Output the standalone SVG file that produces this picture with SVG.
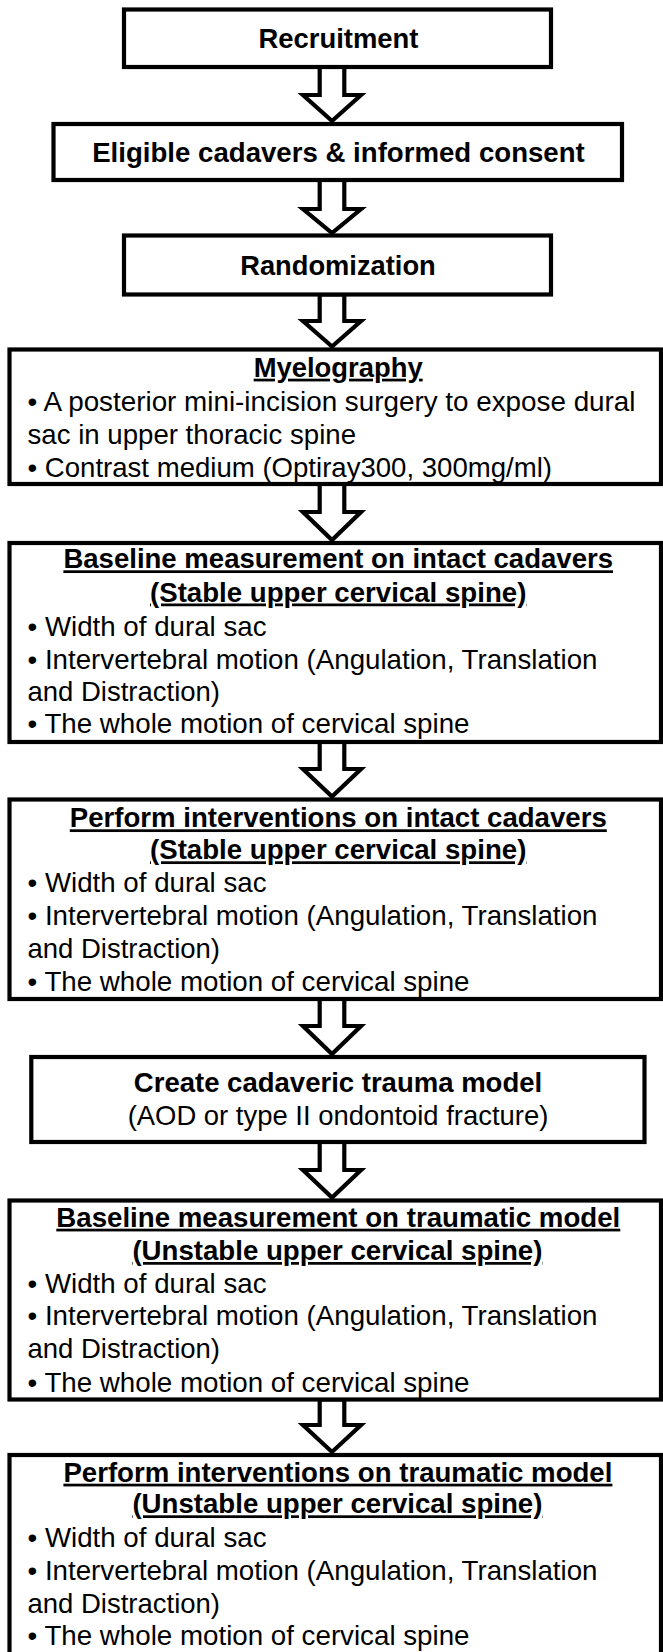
<svg xmlns="http://www.w3.org/2000/svg" width="663" height="1652" viewBox="0 0 663 1652">
<style>
.box{fill:#fff;stroke:#000;stroke-width:4.2}
.arr{fill:#fff;stroke:#000;stroke-width:4.2;stroke-linejoin:miter;stroke-miterlimit:10}
.h{font-family:"Liberation Sans",Arial,sans-serif;font-weight:bold;font-size:27.4px;text-anchor:middle;fill:#000}
.u{text-decoration:underline}
.t{font-family:"Liberation Sans",Arial,sans-serif;font-size:27.5px;fill:#000}
.c{text-anchor:middle}
</style>
<rect width="663" height="1652" fill="#fff"/>
<g id="connectors">
<polygon class="arr" points="319.7,67 344.3,67 344.3,95 361,95 332,121 303,95 319.7,95"/>
<polygon class="arr" points="319.7,180 344.3,180 344.3,209 361,209 332,233 303,209 319.7,209"/>
<polygon class="arr" points="319.7,294.5 344.3,294.5 344.3,321 361,321 332,346.5 303,321 319.7,321"/>
<polygon class="arr" points="319.7,484 344.3,484 344.3,512 361,512 332,540 303,512 319.7,512"/>
<polygon class="arr" points="319.7,742 344.3,742 344.3,769 361,769 332,796.5 303,769 319.7,769"/>
<polygon class="arr" points="319.7,999 344.3,999 344.3,1026 361,1026 332,1054 303,1026 319.7,1026"/>
<polygon class="arr" points="319.7,1142 344.3,1142 344.3,1170 361,1170 332,1197.5 303,1170 319.7,1170"/>
<polygon class="arr" points="319.7,1399.5 344.3,1399.5 344.3,1425 361,1425 332,1452 303,1425 319.7,1425"/>
</g>
<g id="recruitment">
<rect class="box" x="124" y="9.5" width="427" height="57.5"/>
<text class="h" x="338.5" y="48.3" textLength="160" lengthAdjust="spacingAndGlyphs">Recruitment</text>
</g>
<g id="eligible">
<rect class="box" x="53.5" y="124" width="568.5" height="56"/>
<text class="h" x="338.5" y="161.7" textLength="492.6" lengthAdjust="spacingAndGlyphs">Eligible cadavers &amp; informed consent</text>
</g>
<g id="randomization">
<rect class="box" x="124" y="235.5" width="427" height="59"/>
<text class="h" x="338" y="275" textLength="195.5" lengthAdjust="spacingAndGlyphs">Randomization</text>
</g>
<g id="myelography">
<rect class="box" x="9.5" y="349.5" width="651.5" height="134.5"/>
<text class="h u" x="338.2" y="376.7" textLength="169" lengthAdjust="spacingAndGlyphs">Myelography</text>
<text class="t" x="27.5" y="411" textLength="608" lengthAdjust="spacingAndGlyphs">• A posterior mini-incision surgery to expose dural</text>
<text class="t" x="27.5" y="443.5" textLength="328.5" lengthAdjust="spacingAndGlyphs">sac in upper thoracic spine</text>
<text class="t" x="27.5" y="476.5" textLength="524.5" lengthAdjust="spacingAndGlyphs">• Contrast medium (Optiray300, 300mg/ml)</text>
</g>
<g id="baseline-intact">
<rect class="box" x="9.5" y="543" width="651.5" height="199"/>
<text class="h u" x="338.2" y="568.3" textLength="549.6" lengthAdjust="spacingAndGlyphs">Baseline measurement on intact cadavers</text>
<text class="h u" x="338.2" y="601.5" textLength="376.4" lengthAdjust="spacingAndGlyphs">(Stable upper cervical spine)</text>
<text class="t" x="27.5" y="635.5" textLength="239" lengthAdjust="spacingAndGlyphs">• Width of dural sac</text>
<text class="t" x="27.5" y="668.5" textLength="570" lengthAdjust="spacingAndGlyphs">• Intervertebral motion (Angulation, Translation</text>
<text class="t" x="27.5" y="700.7" textLength="192.5" lengthAdjust="spacingAndGlyphs">and Distraction)</text>
<text class="t" x="27.5" y="733.3" textLength="442" lengthAdjust="spacingAndGlyphs">• The whole motion of cervical spine</text>
</g>
<g id="perform-intact">
<rect class="box" x="9.5" y="799.5" width="651.5" height="199.5"/>
<text class="h u" x="338.3" y="827.3" textLength="537" lengthAdjust="spacingAndGlyphs">Perform interventions on intact cadavers</text>
<text class="h u" x="338.2" y="859.3" textLength="376.4" lengthAdjust="spacingAndGlyphs">(Stable upper cervical spine)</text>
<text class="t" x="27.5" y="891.7" textLength="239" lengthAdjust="spacingAndGlyphs">• Width of dural sac</text>
<text class="t" x="27.5" y="925" textLength="570" lengthAdjust="spacingAndGlyphs">• Intervertebral motion (Angulation, Translation</text>
<text class="t" x="27.5" y="958.3" textLength="192.5" lengthAdjust="spacingAndGlyphs">and Distraction)</text>
<text class="t" x="27.5" y="991" textLength="442" lengthAdjust="spacingAndGlyphs">• The whole motion of cervical spine</text>
</g>
<g id="create-trauma">
<rect class="box" x="31.3" y="1057" width="613.2" height="85"/>
<text class="h" x="338" y="1091.7" textLength="408.4" lengthAdjust="spacingAndGlyphs">Create cadaveric trauma model</text>
<text class="t c" x="338" y="1125" textLength="420.6" lengthAdjust="spacingAndGlyphs">(AOD or type II ondontoid fracture)</text>
</g>
<g id="baseline-trauma">
<rect class="box" x="9.5" y="1200.5" width="651.5" height="199"/>
<text class="h u" x="338.3" y="1226.7" textLength="564" lengthAdjust="spacingAndGlyphs">Baseline measurement on traumatic model</text>
<text class="h u" x="337.4" y="1260" textLength="410" lengthAdjust="spacingAndGlyphs">(Unstable upper cervical spine)</text>
<text class="t" x="27.5" y="1292.7" textLength="239" lengthAdjust="spacingAndGlyphs">• Width of dural sac</text>
<text class="t" x="27.5" y="1325" textLength="570" lengthAdjust="spacingAndGlyphs">• Intervertebral motion (Angulation, Translation</text>
<text class="t" x="27.5" y="1358.3" textLength="192.5" lengthAdjust="spacingAndGlyphs">and Distraction)</text>
<text class="t" x="27.5" y="1391.7" textLength="442" lengthAdjust="spacingAndGlyphs">• The whole motion of cervical spine</text>
</g>
<g id="perform-trauma">
<rect class="box" x="9.5" y="1455" width="651.5" height="215"/>
<text class="h u" x="337.9" y="1481.7" textLength="549" lengthAdjust="spacingAndGlyphs">Perform interventions on traumatic model</text>
<text class="h u" x="337.4" y="1513.3" textLength="410" lengthAdjust="spacingAndGlyphs">(Unstable upper cervical spine)</text>
<text class="t" x="27.5" y="1546.7" textLength="239" lengthAdjust="spacingAndGlyphs">• Width of dural sac</text>
<text class="t" x="27.5" y="1580" textLength="570" lengthAdjust="spacingAndGlyphs">• Intervertebral motion (Angulation, Translation</text>
<text class="t" x="27.5" y="1613.3" textLength="192.5" lengthAdjust="spacingAndGlyphs">and Distraction)</text>
<text class="t" x="27.5" y="1645" textLength="442" lengthAdjust="spacingAndGlyphs">• The whole motion of cervical spine</text>
</g>
</svg>
